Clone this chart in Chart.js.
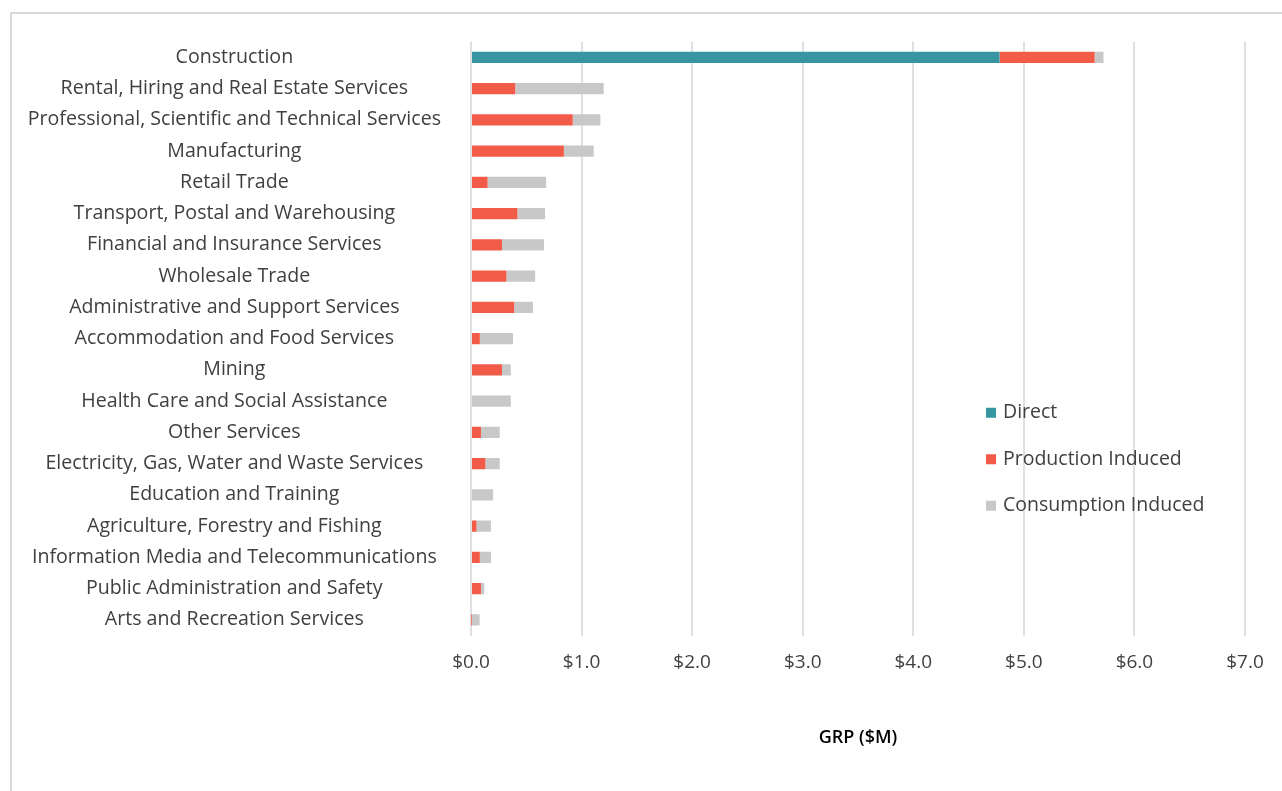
<!DOCTYPE html>
<html>
<head>
<meta charset="utf-8">
<script src="https://cdn.jsdelivr.net/npm/chart.js@4"></script>
<style>
  html, body { margin: 0; padding: 0; background: #fff; overflow: hidden; }
  #frame { position: absolute; left: 10px; top: 12px; width: 1400px; height: 900px;
           border-top: 2px solid #dadada; border-left: 2px solid #dadada; }
  #grafico { position: absolute; left: 0; top: 0; }
</style>
</head>
<body>
<div id="frame"></div>
<canvas id="grafico" width="1282" height="791"></canvas>
<script>
// categorias (de cima para baixo)
const setores = [
  'Construction',
  'Rental, Hiring and Real Estate Services',
  'Professional, Scientific and Technical Services',
  'Manufacturing',
  'Retail Trade',
  'Transport, Postal and Warehousing',
  'Financial and Insurance Services',
  'Wholesale Trade',
  'Administrative and Support Services',
  'Accommodation and Food Services',
  'Mining',
  'Health Care and Social Assistance',
  'Other Services',
  'Electricity, Gas, Water and Waste Services',
  'Education and Training',
  'Agriculture, Forestry and Fishing',
  'Information Media and Telecommunications',
  'Public Administration and Safety',
  'Arts and Recreation Services'
];

// valores em $M
const direto = [4.78, 0, 0, 0, 0, 0, 0, 0, 0, 0, 0, 0, 0, 0, 0, 0, 0, 0, 0];
const producao = [0.86, 0.40, 0.92, 0.84, 0.15, 0.42, 0.28, 0.32, 0.39, 0.08, 0.28, 0, 0.09, 0.13, 0, 0.05, 0.08, 0.09, 0.003];
const consumo = [0.08, 0.80, 0.25, 0.27, 0.53, 0.25, 0.38, 0.26, 0.17, 0.30, 0.08, 0.36, 0.17, 0.13, 0.20, 0.13, 0.10, 0.03, 0.075];

const nomesSeries = ['Direct', 'Production Induced', 'Consumption Induced'];
const coresSeries = ['#3796a2', '#f15b47', '#c8c8c8'];
const ticksX = [0, 1, 2, 3, 4, 5, 6, 7];

const fonte = "'Open Sans', sans-serif";

// legenda desenhada dentro da area do grafico
const legendaInterna = {
  id: 'legendaInterna',
  afterDraw(chart) {
    const c = chart.ctx;
    const area = chart.chartArea;
    c.save();
    c.font = '19.5px ' + fonte;
    c.textBaseline = 'middle';
    c.textAlign = 'left';
    chart.data.datasets.forEach((ds, i) => {
      const x = area.right - 259;
      const y = area.top + 371 + i * 46.5;
      c.fillStyle = ds.backgroundColor;
      c.fillRect(x, y - 5, 10, 10);
      c.fillStyle = '#404040';
      c.fillText(ds.label, x + 17, y);
    });
    c.restore();
  }
};

const ctx = document.getElementById('grafico').getContext('2d');

new Chart(ctx, {
  type: 'bar',
  data: {
    labels: setores,
    datasets: [
      { label: nomesSeries[0], data: direto, backgroundColor: coresSeries[0] },
      { label: nomesSeries[1], data: producao, backgroundColor: coresSeries[1] },
      { label: nomesSeries[2], data: consumo, backgroundColor: coresSeries[2] }
    ]
  },
  options: {
    indexAxis: 'y',
    responsive: false,
    animation: false,
    categoryPercentage: 1,
    barPercentage: 0.36,
    layout: { padding: { top: 40, right: 37, left: 10, bottom: 0 } },
    plugins: {
      legend: { display: false },
      tooltip: { enabled: false }
    },
    scales: {
      x: {
        stacked: true,
        min: 0,
        max: 7,
        afterBuildTicks: s => { s.ticks = ticksX.map(v => ({ value: v })); },
        afterFit: s => { s.height = 155.5; },
        grid: { color: '#e0e0e0', lineWidth: 2, drawTicks: false },
        border: { display: false },
        ticks: {
          padding: 16,
          color: '#404040',
          font: { family: fonte, size: 19 },
          callback: v => '$' + Number(v).toFixed(1)
        },
        title: {
          display: true,
          text: 'GRP ($M)',
          color: '#000',
          font: { family: fonte, size: 18, weight: '600' },
          padding: { top: 0, bottom: 42 }
        }
      },
      y: {
        stacked: true,
        afterFit: s => { s.width = 461; },
        grid: { display: false, drawTicks: false },
        border: { display: false },
        ticks: {
          crossAlign: 'center',
          padding: 30,
          color: '#404040',
          font: { family: fonte, size: 19.6 }
        }
      }
    }
  },
  plugins: [legendaInterna]
});
</script>
</body>
</html>
